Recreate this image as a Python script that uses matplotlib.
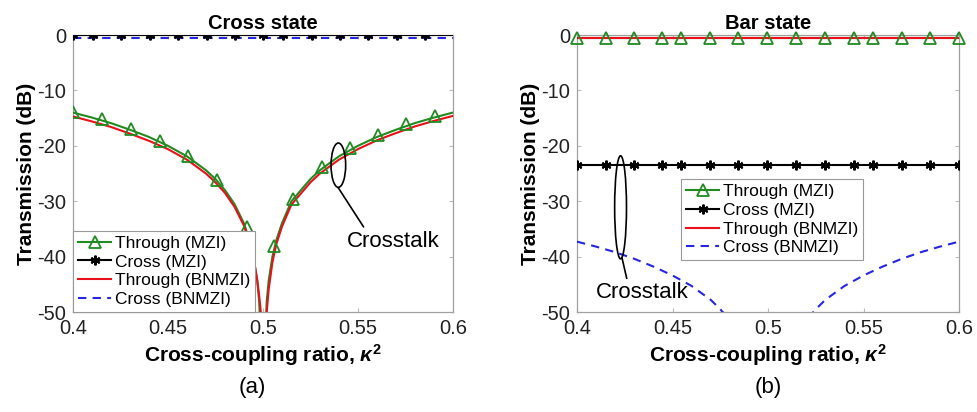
import numpy as np
import matplotlib
matplotlib.use("Agg")
import matplotlib.pyplot as plt
from matplotlib.lines import Line2D
from matplotlib.patches import Ellipse

plt.rcParams['font.family'] = ['Liberation Sans', 'DejaVu Sans']
plt.rcParams['mathtext.fontset'] = 'custom'
plt.rcParams['mathtext.rm'] = 'Liberation Sans'
plt.rcParams['mathtext.it'] = 'Liberation Sans:italic:bold'
plt.rcParams['mathtext.bf'] = 'Liberation Sans:bold'

# ---- (a) cross state ----
kappa_a = [0.400, 0.410, 0.420, 0.430, 0.440, 0.450, 0.460, 0.470, 0.475, 0.480,
           0.485, 0.490, 0.493, 0.495, 0.497, 0.498, 0.4995, 0.5005, 0.502, 0.503,
           0.505, 0.507, 0.510, 0.515, 0.520, 0.525, 0.530, 0.540, 0.550, 0.560,
           0.570, 0.580, 0.590, 0.600]
through_mzi_a = [-14.0, -14.9, -15.9, -17.1, -18.4, -20.0, -21.9, -24.4, -26.0, -28.0,
                 -30.5, -34.0, -37.1, -40.0, -44.4, -48.0, -60.0, -60.0, -48.0, -44.4,
                 -40.0, -37.1, -34.0, -30.0, -28.0, -26.0, -24.4, -21.9, -20.0, -18.4,
                 -17.1, -15.9, -14.9, -14.0]
through_bnmzi_a = [-14.7, -15.6, -16.6, -17.8, -19.1, -20.6, -22.5, -25.0, -26.6, -28.5,
                   -31.0, -34.4, -37.4, -40.2, -44.2, -47.0, -52.0, -60.0, -50.0, -46.0,
                   -41.0, -37.8, -34.6, -30.6, -28.6, -26.6, -25.0, -22.5, -20.6, -19.0,
                   -17.7, -16.5, -15.5, -14.6]
cross_mzi_a = [-0.05] * len(kappa_a)
cross_bnmzi_a = [-0.6] * len(kappa_a)

mk_through_a_x = [0.400, 0.4155, 0.4308, 0.4457, 0.4606, 0.4759, 0.4914,
                  0.5058, 0.5160, 0.5309, 0.5459, 0.5605, 0.5754, 0.5907]
mk_through_a_y = [-13.9, -15.1, -16.9, -19.1, -21.9, -26.1, -34.6,
                  -38.1, -29.6, -23.8, -20.4, -18.1, -16.1, -14.6]
mk_cross_a_x = [0.400, 0.4105, 0.4255, 0.4404, 0.4554, 0.4703, 0.4852,
                0.5002, 0.5107, 0.5257, 0.5406, 0.5555, 0.5705, 0.5854]
mk_cross_a_y = [-0.05] * len(mk_cross_a_x)

# ---- (b) bar state ----
kappa_b = [0.400, 0.410, 0.420, 0.430, 0.440, 0.450, 0.460, 0.470, 0.475, 0.480,
           0.490, 0.500, 0.510, 0.520, 0.525, 0.530, 0.540, 0.550, 0.560, 0.570,
           0.580, 0.590, 0.600]
through_mzi_b = [-0.5] * len(kappa_b)
through_bnmzi_b = [-0.55] * len(kappa_b)
cross_mzi_b = [-23.4] * len(kappa_b)
cross_bnmzi_b = [-37.3, -38.2, -39.2, -40.4, -41.8, -43.4, -45.3, -47.8, -49.5, -51.5,
                 -57.0, -80.0, -57.0, -51.5, -49.5, -47.8, -45.3, -43.4, -41.8, -40.4,
                 -39.2, -38.2, -37.3]

mk_b_x = [0.400, 0.4150, 0.4298, 0.4447, 0.4546, 0.4695, 0.4843, 0.4995,
          0.5145, 0.5297, 0.5450, 0.5550, 0.5702, 0.5850, 0.600]
mk_through_b_y = [-0.5] * len(mk_b_x)
mk_cross_b_y = [-23.4] * len(mk_b_x)

x_ticks = [0.4, 0.45, 0.5, 0.55, 0.6]
x_tick_labels = ['0.4', '0.45', '0.5', '0.55', '0.6']
y_ticks = [0, -10, -20, -30, -40, -50]
labels = ['Through (MZI)', 'Cross (MZI)', 'Through (BNMZI)', 'Cross (BNMZI)']

GREEN = '#218a21'
RED = '#e8101a'
BLUE = '#2626e0'
STAR = (6, 2, 0)

fig = plt.figure(figsize=(9.78, 4.12), dpi=100)
ax1 = fig.add_axes([0.0746, 0.2427, 0.3885, 0.6723])
ax2 = fig.add_axes([0.590, 0.2427, 0.3906, 0.6723])


def style_axes(ax, title):
    ax.set_xlim(0.4, 0.6)
    ax.set_ylim(-50, 0)
    ax.set_xticks(x_ticks)
    ax.set_xticklabels(x_tick_labels)
    ax.set_yticks(y_ticks)
    ax.set_yticklabels([str(v) for v in y_ticks])
    ax.tick_params(direction='in', length=3, color='#bbbbbb', labelsize=14.5,
                   top=True, right=True, pad=5, labelcolor='#222222')
    for s in ax.spines.values():
        s.set_color('#a0a0a0')
        s.set_linewidth(0.9)
    ax.set_title(title, fontsize=14.5, fontweight='bold', pad=4)
    ax.set_xlabel(r'Cross-coupling ratio, $\kappa^{\mathbf{2}}$', fontsize=15,
                  fontweight='bold', labelpad=3)
    ax.set_ylabel('Transmission (dB)', fontsize=15, fontweight='bold', labelpad=1)


def handles():
    return [
        Line2D([], [], color=GREEN, lw=1.5, marker='^', mfc='none', mec=GREEN, ms=8, mew=1.3),
        Line2D([], [], color='black', lw=1.5, marker=STAR, mec='black', ms=7, mew=1.5),
        Line2D([], [], color=RED, lw=1.5),
        Line2D([], [], color=BLUE, lw=1.5, ls=(0, (4, 3))),
    ]


# (a)
ax1.plot(kappa_a, cross_mzi_a, color='black', lw=1.5, zorder=3)
ax1.plot(mk_cross_a_x, mk_cross_a_y, ls='none', marker=STAR, mec='black', ms=7, mew=1.5, zorder=4)
ax1.plot(kappa_a, cross_bnmzi_a, color=BLUE, lw=1.5, ls=(0, (4, 3)), zorder=3)
ax1.plot(kappa_a, through_mzi_a, color=GREEN, lw=1.5, zorder=3)
ax1.plot(mk_through_a_x, mk_through_a_y, ls='none', marker='^', mfc='none', mec=GREEN,
         ms=8, mew=1.3, zorder=4)
ax1.plot(kappa_a, through_bnmzi_a, color=RED, lw=1.5, zorder=3)
style_axes(ax1, 'Cross state')
leg1 = ax1.legend(handles(), labels, loc='lower left', borderaxespad=0, fontsize=12.5,
                  handlelength=1.9, handletextpad=0.2, labelspacing=0.2,
                  fancybox=False, framealpha=1, edgecolor='#999999', borderpad=0.3)
leg1.get_frame().set_linewidth(0.8)
ax1.add_patch(Ellipse((0.5397, -23.5), 0.0077, 8.0, fill=False, ec='black', lw=1.2, zorder=5))
ax1.plot([0.5397, 0.5529], [-27.6, -34.6], color='black', lw=1.2, zorder=5)
ax1.text(0.5441, -37.3, 'Crosstalk', fontsize=16, va='center', ha='left')

# (b)
ax2.plot(kappa_b, cross_bnmzi_b, color=BLUE, lw=1.5, ls=(0, (4, 3)), zorder=3)
ax2.plot(kappa_b, cross_mzi_b, color='black', lw=1.5, zorder=3)
ax2.plot(mk_b_x, mk_cross_b_y, ls='none', marker=STAR, mec='black', ms=7, mew=1.5, zorder=4)
ax2.plot(kappa_b, through_mzi_b, color=GREEN, lw=1.5, zorder=3)
ax2.plot(kappa_b, through_bnmzi_b, color=RED, lw=1.5, zorder=3)
ax2.plot(mk_b_x, mk_through_b_y, ls='none', marker='^', mfc='none', mec=GREEN,
         ms=8, mew=1.3, zorder=4, clip_on=False)
style_axes(ax2, 'Bar state')
leg2 = ax2.legend(handles(), labels, loc='upper left', bbox_to_anchor=(0.272, 0.48),
                  borderaxespad=0, fontsize=12.5, handlelength=1.9, handletextpad=0.2,
                  labelspacing=0.2, fancybox=False, framealpha=1, edgecolor='#999999',
                  borderpad=0.3)
leg2.get_frame().set_linewidth(0.8)
ax2.add_patch(Ellipse((0.4228, -31.1), 0.0062, 18.6, fill=False, ec='black', lw=1.2, zorder=5))
ax2.plot([0.4236, 0.4260], [-40.3, -43.9], color='black', lw=1.2, zorder=5)
ax2.text(0.4100, -46.4, 'Crosstalk', fontsize=16, va='center', ha='left')

fig.text(252 / 978, 1 - 388 / 412, '(a)', fontsize=16, ha='center', va='center')
fig.text(768 / 978, 1 - 388 / 412, '(b)', fontsize=16, ha='center', va='center')

fig.savefig('out.png', dpi=100)
